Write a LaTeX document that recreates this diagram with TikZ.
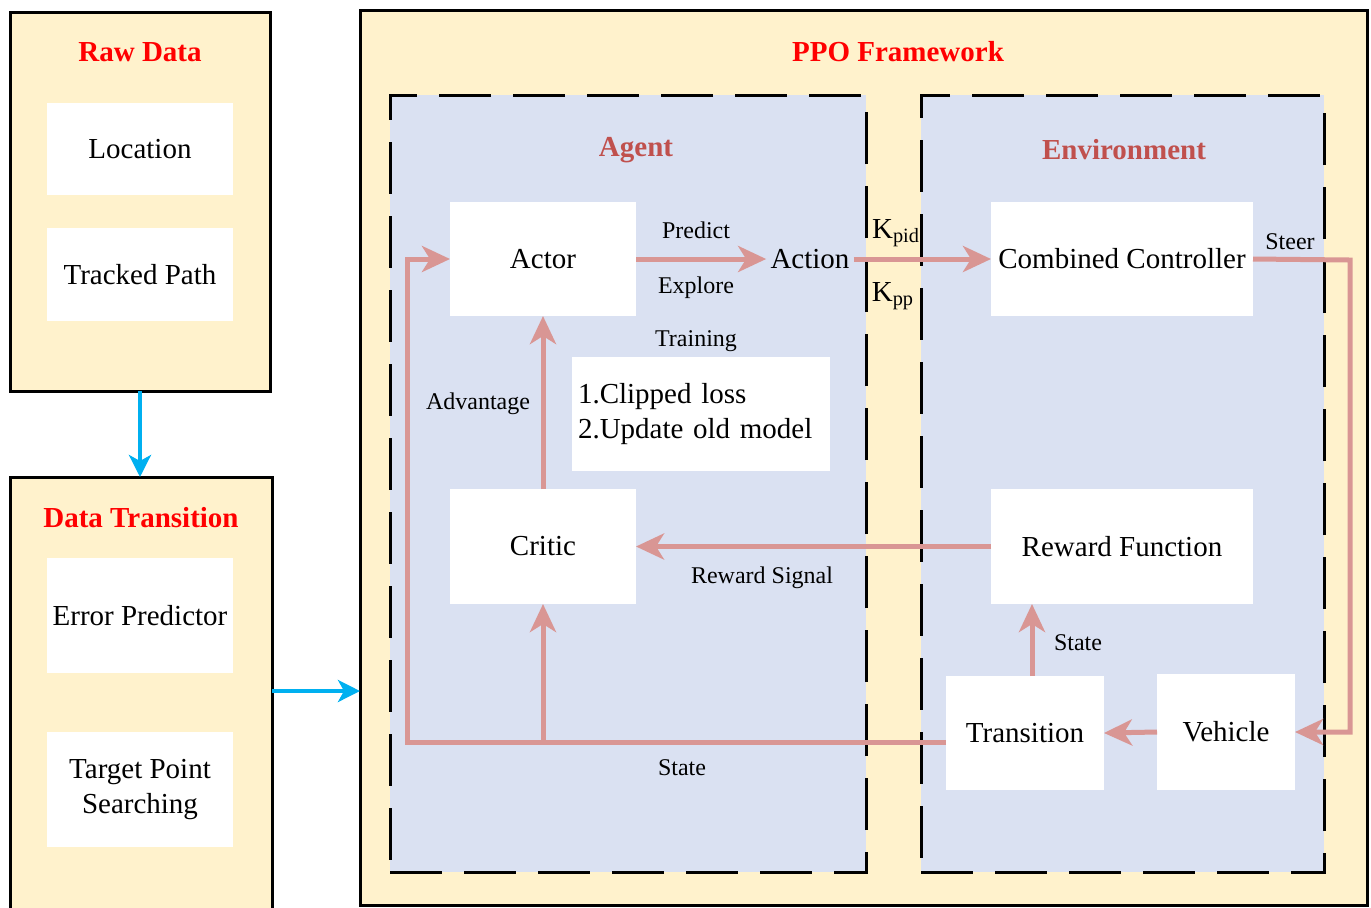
\documentclass[tikz,border=0pt]{standalone}
\usepackage{fontspec}
\setmainfont{Liberation Serif}
\usetikzlibrary{arrows.meta}
\definecolor{jaune}{HTML}{FFF2CC}
\definecolor{bleuclair}{HTML}{DAE1F2}
\definecolor{rose}{HTML}{D99694}
\definecolor{brique}{HTML}{C0504D}
\definecolor{cyan}{HTML}{00B0F0}
\begin{document}
\begin{tikzpicture}[x=0.5pt,y=-0.5pt,font=\fontsize{14.5}{17.5}\selectfont]
\tikzstyle{cadre} = [draw=black,line width=1.5pt,fill=jaune,inner sep=0pt,outer sep=0pt]
\tikzstyle{zone} = [draw=black,line width=1.5pt,dash pattern=on 26pt off 11pt,fill=bleuclair,inner sep=0pt,outer sep=0pt]
\tikzstyle{boite} = [fill=white,inner sep=2pt,outer sep=0pt,align=center]
\tikzstyle{titre} = [font=\fontsize{14.5}{17}\selectfont\bfseries,text=red]
\tikzstyle{soustitre} = [font=\fontsize{14.5}{17}\selectfont\bfseries,text=brique]
\tikzstyle{etiq} = [font=\fontsize{12}{14}\selectfont]
\tikzstyle{fleche} = [draw=rose,line width=2.5pt,-{Stealth[length=14pt,width=13pt,inset=4pt]}]
\tikzstyle{flechebleue} = [draw=cyan,line width=2pt,-{Stealth[length=11pt,width=11pt,inset=3pt]}]
\clip (0,0) rectangle (1371,907);
%cadres de gauche
\node[cadre,minimum width=130pt,minimum height=189.5pt](raw) at (140,201.5){};
\node[titre](rawt) at (140,52){Raw Data};
\node[boite,minimum width=93pt,minimum height=46pt](loc) at (140,149){Location};
\node[boite,minimum width=93pt,minimum height=46.5pt](path) at (140,274.5){Tracked Path};
\node[cadre,minimum width=131pt,minimum height=219pt](dt) at (141,696){};
\node[titre](dtt) at (141,518){Data Transition};
\node[boite,minimum width=93pt,minimum height=57.5pt](err) at (140,615.5){Error Predictor};
\node[boite,minimum width=93pt,minimum height=57.5pt](tps) at (140,789.5){Target Point\\Searching};
%cadre PPO
\node[cadre,minimum width=503.5pt,minimum height=447.5pt](ppo) at (863.5,457.5){};
\node[titre](ppot) at (898,52){PPO Framework};
\node[zone,minimum width=238pt,minimum height=388.5pt](agent) at (628,483.5){};
\node[zone,minimum width=201.5pt,minimum height=388.5pt](env) at (1122.5,483.5){};
\node[soustitre](agentt) at (636,150){Agent};
\node[soustitre](envt) at (1124,150){Environment};
%blocs de l'agent
\node[boite,minimum width=93pt,minimum height=57pt](actor) at (543,259){Actor};
\node[inner sep=2pt](action) at (810,259){Action};
\node[boite,minimum width=93pt,minimum height=57.5pt](critic) at (543,546.5){Critic};
\node[boite,minimum width=129pt,minimum height=57pt,text width=123pt,align=left](loss) at (701,414){1.Clipped loss\\2.Update old model};
%blocs de l'environnement
\node[boite,minimum width=131pt,minimum height=57pt](cc) at (1122,259){Combined Controller};
\node[boite,minimum width=131pt,minimum height=57.5pt](rf) at (1122,546.5){Reward Function};
\node[boite,minimum width=79pt,minimum height=57pt](trans) at (1025,733){Transition};
\node[boite,minimum width=69pt,minimum height=58pt](veh) at (1226,732){Vehicle};
%etiquettes
\node[etiq](predict) at (696,230){Predict};
\node[etiq](explore) at (696,288){Explore};
\node[etiq](training) at (696,341){Training};
\node[etiq](adv) at (478,404){Advantage};
\node[etiq](rsig) at (762,578){Reward Signal};
\node[etiq](state1) at (682,768){State};
\node[etiq](state2) at (1078,643){State};
\node[etiq](steer) at (1290,242){Steer};
\node(kpid) at (896,233){K\textsubscript{pid}};
\node(kpp) at (893,296){K\textsubscript{pp}};
%fleches bleues
\draw[flechebleue] (raw.south) -- (raw.south |- dt.north);
\draw[flechebleue] (dt.east |- 0,691) -- (ppo.west |- 0,691);
%fleches roses
\coordinate (coin) at (1350,260);
\coordinate (retour) at (407,742);
\coordinate (montee) at (1032,676);
\draw[fleche] (actor.east) -- (action.west);
\draw[fleche] (action.east) -- (cc.west);
\draw[fleche] (cc.east) -- (coin) |- (veh.east);
\draw[fleche] (veh.west) -- (trans.east);
\draw[fleche] (montee) -- (montee |- rf.south);
\draw[fleche] (rf.west) -- (critic.east);
\draw[fleche] (critic.north) -- (actor.south);
\draw[fleche] (trans.west |- retour) -- (retour) |- (actor.west);
\draw[fleche] (critic.south |- retour) -- (critic.south);
\end{tikzpicture}
\end{document}
